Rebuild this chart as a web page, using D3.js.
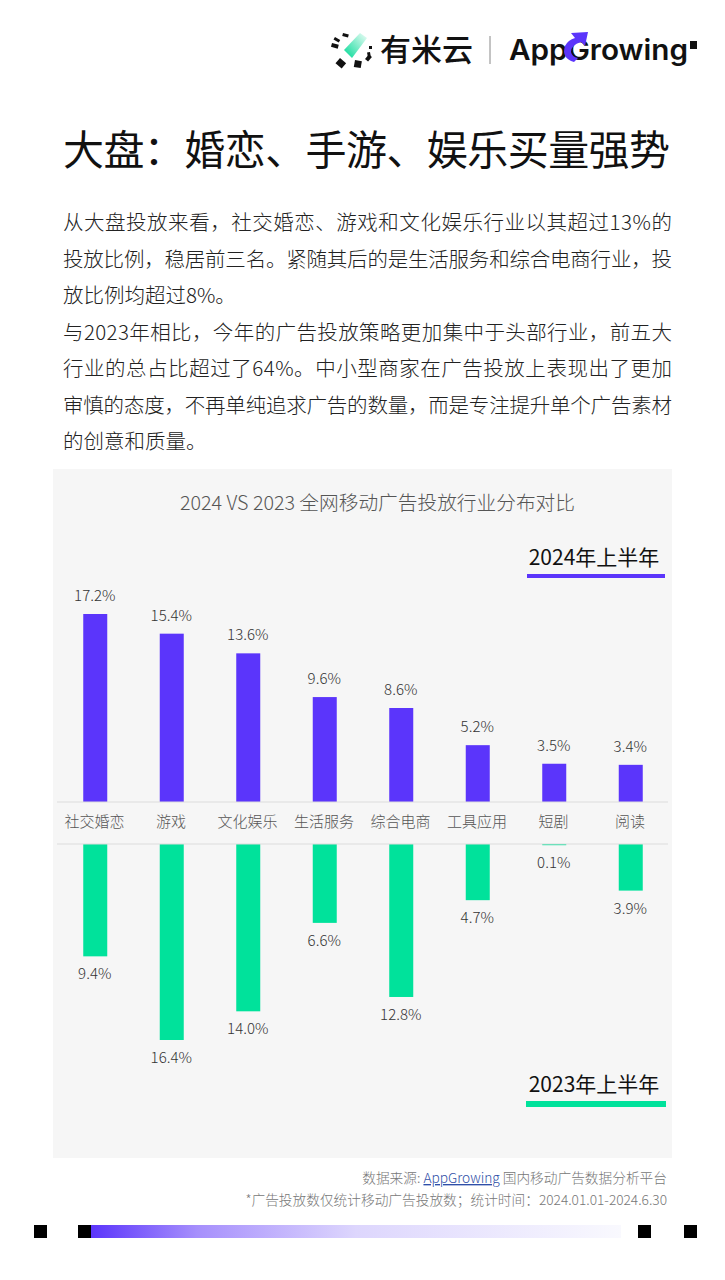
<!DOCTYPE html>
<html>
<head>
<meta charset="utf-8">
<script src="https://cdn.jsdelivr.net/npm/d3@7"></script>
<style>
html, body { margin: 0; padding: 0; background: #fff; }
text { font-family: "Noto Sans CJK SC", "Noto Sans", sans-serif; }
</style>
</head>
<body>
<div id="chart"></div>
<script>
// データ
const categories = ['社交婚恋', '游戏', '文化娱乐', '生活服务', '综合电商', '工具应用', '短剧', '阅读'];
const values2024 = [17.2, 15.4, 13.6, 9.6, 8.6, 5.2, 3.5, 3.4];
const values2023 = [9.4, 16.4, 14.0, 6.6, 12.8, 4.7, 0.1, 3.9];

const titleText = '大盘：婚恋、手游、娱乐买量强势';
const bodyLines = [
  '从大盘投放来看，社交婚恋、游戏和文化娱乐行业以其超过13%的',
  '投放比例，稳居前三名。紧随其后的是生活服务和综合电商行业，投',
  '放比例均超过8%。',
  '与2023年相比，今年的广告投放策略更加集中于头部行业，前五大',
  '行业的总占比超过了64%。中小型商家在广告投放上表现出了更加',
  '审慎的态度，不再单纯追求广告的数量，而是专注提升单个广告素材',
  '的创意和质量。'
];
const justified = [true, true, false, true, true, true, false];

const width = 725, height = 1280;
const purple = '#5b35fb', green = '#00e29b';

const svg = d3.select('#chart').append('svg')
  .attr('width', width).attr('height', height)
  .style('display', 'block');

const defs = svg.append('defs');
const grad = defs.append('linearGradient').attr('id', 'fade');
grad.append('stop').attr('offset', '0').attr('stop-color', purple);
grad.append('stop').attr('offset', '0.2').attr('stop-color', '#a68ffc');
grad.append('stop').attr('offset', '0.5').attr('stop-color', '#ddd6fd');
grad.append('stop').attr('offset', '1').attr('stop-color', '#f9f9fe');
const logoGrad = defs.append('linearGradient').attr('id', 'logoFade')
  .attr('x1', 0).attr('y1', 1).attr('x2', 1).attr('y2', 0);
logoGrad.append('stop').attr('offset', '0').attr('stop-color', '#00d995');
logoGrad.append('stop').attr('offset', '1').attr('stop-color', '#f0fdf8');

// ロゴ
const logo = svg.append('g');
logo.append('path').attr('d', 'M344 50 L360 33 L367 38 L352 58 Z').attr('fill', 'url(#logoFade)');
[[332, 43, 7, 4, 15], [335, 37, 6, 3, 30], [343, 33, 6, 3, 15], [340, 58, 8, 7, 40],
 [355, 60, 7, 7, 10], [365, 59, 6, 4, -50], [370, 52, 5, 3, 80], [369, 46, 3, 3, 0]]
  .forEach(d => logo.append('rect')
    .attr('x', d[0]).attr('y', d[1]).attr('width', d[2]).attr('height', d[3])
    .attr('transform', `rotate(${d[4]} ${d[0]} ${d[1]})`).attr('fill', '#111'));
logo.append('text').attr('x', 380).attr('y', 61).attr('font-size', 31).attr('font-weight', 500)
  .attr('fill', '#111').attr('textLength', 93).text('有米云');
logo.append('line').attr('x1', 490).attr('x2', 490).attr('y1', 36).attr('y2', 64)
  .attr('stroke', '#888').attr('stroke-width', 1);
logo.append('text').attr('x', 509).attr('y', 60)
  .attr('font-size', 28).attr('font-weight', 600).attr('fill', '#111')
  .style('font-family', 'Inter').attr('textLength', 179).attr('lengthAdjust', 'spacingAndGlyphs').text('AppGrowing');
logo.append('path').attr('d', 'M574 62 Q561 58 565 46 Q568 40 575 38 L571 33 L588 32 L585 46 L581 42 Q571 45 571 52 Q572 57 578 58 Z').attr('fill', purple);
logo.append('rect').attr('x', 690).attr('y', 41).attr('width', 7).attr('height', 8).attr('fill', '#111');

// タイトルと本文
svg.append('text').attr('x', 63).attr('y', 165)
  .attr('font-size', 41).attr('font-weight', 400).attr('fill', '#111')
  .attr('textLength', 607).text(titleText);

svg.append('g').selectAll('text').data(bodyLines).enter().append('text')
  .attr('x', 63)
  .attr('y', (d, i) => 230 + i * 36.5)
  .attr('font-size', 20.5).attr('font-weight', 300).attr('fill', '#222')
  .attr('textLength', (d, i) => justified[i] ? 609 : null)
  .text(d => d);

// チャート背景
svg.append('rect').attr('x', 53).attr('y', 469).attr('width', 619).attr('height', 689).attr('fill', '#f6f6f6');

svg.append('text').attr('x', 377.5).attr('y', 510).attr('text-anchor', 'middle')
  .attr('font-size', 19.7).attr('font-weight', 300).attr('fill', '#555')
  .text('2024 VS 2023 全网移动广告投放行业分布对比');

// スケール
const x = d3.scaleBand().domain(categories).range([57, 669]);
const yTop = d3.scaleLinear().domain([0, 17.2]).range([802, 614]);
const yBottom = d3.scaleLinear().domain([0, 16.4]).range([844, 1040]);
const barW = 24;
const cx = d => x(d) + x.bandwidth() / 2;

// 上の棒
svg.append('g').selectAll('rect').data(values2024).enter().append('rect')
  .attr('x', (d, i) => cx(categories[i]) - barW / 2)
  .attr('y', d => yTop(d))
  .attr('width', barW)
  .attr('height', d => yTop(0) - yTop(d))
  .attr('fill', purple);

svg.append('g').selectAll('text').data(values2024).enter().append('text')
  .attr('x', (d, i) => cx(categories[i]) - 0.5)
  .attr('y', d => yTop(d) - 13)
  .attr('text-anchor', 'middle')
  .attr('font-size', 15).attr('font-weight', 300).attr('fill', '#333')
  .text(d => d.toFixed(1) + '%');

// 下の棒
svg.append('g').selectAll('rect').data(values2023).enter().append('rect')
  .attr('x', (d, i) => cx(categories[i]) - barW / 2)
  .attr('y', yBottom(0))
  .attr('width', barW)
  .attr('height', d => yBottom(d) - yBottom(0))
  .attr('fill', green);

svg.append('g').selectAll('text').data(values2023).enter().append('text')
  .attr('x', (d, i) => cx(categories[i]) - 0.5)
  .attr('y', d => yBottom(d) + 23)
  .attr('text-anchor', 'middle')
  .attr('font-size', 15).attr('font-weight', 300).attr('fill', '#333')
  .text(d => d.toFixed(1) + '%');

// カテゴリ軸
[802, 844].forEach(y => svg.append('line')
  .attr('x1', 57).attr('x2', 668).attr('y1', y).attr('y2', y)
  .attr('stroke', '#dcdcdc').attr('stroke-width', 1));

svg.append('g').selectAll('text').data(categories).enter().append('text')
  .attr('x', d => cx(d) - 0.7)
  .attr('y', 827)
  .attr('text-anchor', 'middle')
  .attr('font-size', 15).attr('font-weight', 300).attr('fill', '#555')
  .text(d => d);

// 凡例
svg.append('text').attr('x', 594).attr('y', 565).attr('text-anchor', 'middle')
  .attr('font-size', 21).attr('fill', '#111').text('2024年上半年');
svg.append('rect').attr('x', 527).attr('y', 574).attr('width', 138).attr('height', 4).attr('fill', purple);
svg.append('text').attr('x', 594).attr('y', 1092).attr('text-anchor', 'middle')
  .attr('font-size', 21).attr('fill', '#111').text('2023年上半年');
svg.append('rect').attr('x', 526).attr('y', 1101).attr('width', 140).attr('height', 6).attr('fill', green);

// 出典
const source = svg.append('text').attr('x', 667).attr('y', 1183).attr('text-anchor', 'end')
  .attr('font-size', 13.7).attr('font-weight', 300).attr('fill', '#777');
source.append('tspan').text('数据来源: ');
source.append('tspan').attr('fill', '#2f4fa8').attr('text-decoration', 'underline').text('AppGrowing');
source.append('tspan').text(' 国内移动广告数据分析平台');
svg.append('text').attr('x', 667).attr('y', 1205).attr('text-anchor', 'end')
  .attr('font-size', 13.7).attr('font-weight', 300).attr('fill', '#777')
  .text('*广告投放数仅统计移动广告投放数；统计时间：2024.01.01-2024.6.30');

// 下部の飾り
svg.append('rect').attr('x', 91).attr('y', 1225).attr('width', 530).attr('height', 13).attr('fill', 'url(#fade)');
[34, 78, 638, 684].forEach(px => svg.append('rect')
  .attr('x', px).attr('y', 1225).attr('width', 13).attr('height', 13).attr('fill', '#000'));
</script>
</body>
</html>
